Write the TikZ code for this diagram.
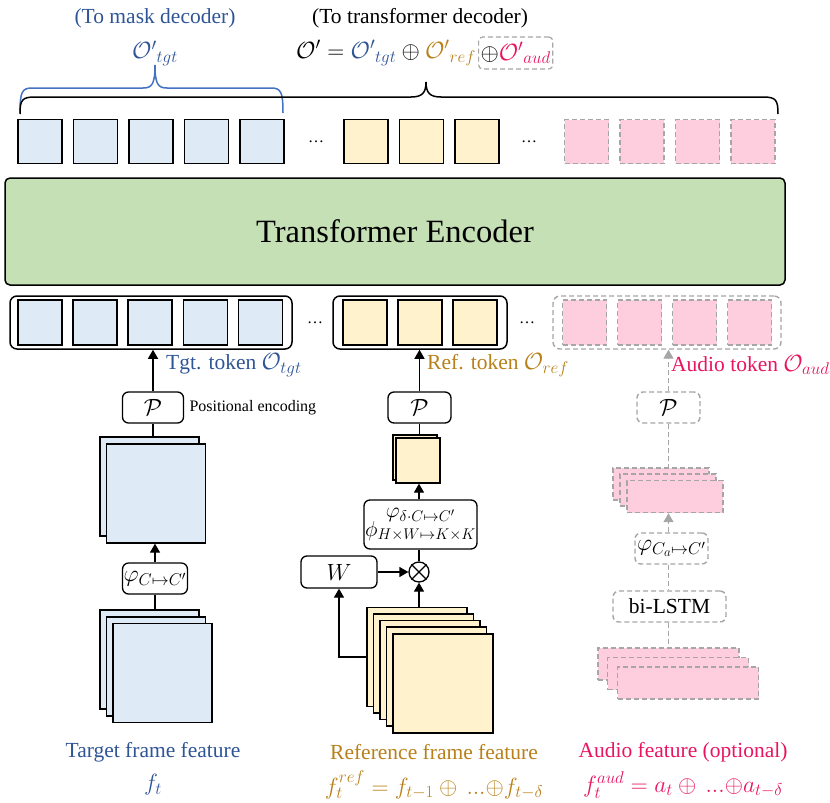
\RequirePackage{fix-cm}
\documentclass[tikz,border=0pt]{standalone}
\usepackage{fontspec}
\setmainfont{Liberation Serif}
\usetikzlibrary{arrows.meta,positioning}
\DeclareMathSizes{21.5}{23.5}{17}{13}
\DeclareMathSizes{19.5}{21.5}{15.5}{12}

\definecolor{tgtblue}{RGB}{47,85,151}
\definecolor{braceblue}{RGB}{68,114,196}
\definecolor{refgold}{RGB}{184,128,24}
\definecolor{audpink}{RGB}{233,20,96}
\definecolor{tgtfill}{RGB}{222,235,247}
\definecolor{reffill}{RGB}{255,242,204}
\definecolor{audfill}{RGB}{255,206,222}
\definecolor{encfill}{RGB}{197,224,180}
\definecolor{dashgray}{RGB}{166,166,166}

\begin{document}
\begin{tikzpicture}[x=1pt,y=-1pt,
  font=\fontsize{21.5}{24}\selectfont,
  gdash/.style={draw=dashgray, dash pattern=on 5pt off 3pt},
  tok/.style={draw, line width=1.3pt, minimum width=44pt, minimum height=44pt, inner sep=0pt},
  tgttok/.style={tok, fill=tgtfill},
  reftok/.style={tok, fill=reffill},
  audtok/.style={tok, fill=audfill, gdash},
  rowbox/.style={draw, line width=1.5pt, rounded corners=7pt, minimum height=53pt, inner sep=0pt},
  audrowbox/.style={rowbox, gdash, line width=1.4pt},
  opbox/.style={draw, line width=1.3pt, rounded corners=6pt, fill=white, minimum height=31pt, inner sep=2pt},
  audopbox/.style={opbox, gdash, line width=1.4pt},
  feat/.style={draw, line width=1.3pt, inner sep=0pt},
  tgtfeat/.style={feat, fill=tgtfill, minimum width=99pt, minimum height=99pt},
  reffeat/.style={feat, fill=reffill, minimum width=100pt, minimum height=99pt},
  refproj/.style={feat, fill=reffill, minimum width=44pt, minimum height=45pt},
  audfeat/.style={feat, fill=audfill, gdash, line width=1.4pt, minimum width=141pt, minimum height=32pt},
  audproj/.style={feat, fill=audfill, gdash, line width=1.4pt, minimum width=96pt, minimum height=32pt},
  dots/.style={font=\fontsize{16}{18}\selectfont},
  arr/.style={-{Triangle[length=9pt,width=10pt]}, line width=1.3pt},
  garr/.style={-{Triangle[length=9pt,width=10pt]}, line width=1.4pt, gdash},
  gline/.style={line width=1.4pt, gdash}]
\useasboundingbox (0,0) rectangle (830,803);

%Nodes
\node[text=tgtblue] (masktext) at (155,18) {(To mask decoder)};
\node[text=tgtblue] (maskout) at (155,53) {${\mathcal{O}'}_{tgt}$};
\node (dectext) at (420,18) {(To transformer decoder)};
\node[anchor=east, inner sep=1pt] (decout) at (477,53) {$\mathcal{O}' = {\color{tgtblue}{\mathcal{O}'}_{tgt}} \oplus {\color{refgold}{\mathcal{O}'}_{ref}}$};
\node[audopbox, line width=1.2pt, rounded corners=4pt, minimum height=32pt, right=1pt of decout] (decaud) {$\oplus {\color{audpink}{\mathcal{O}'}_{aud}}$};

\node[tgttok] (outtgt1) at (40,141.5) {};
\node[tgttok] (outtgt2) at (95.5,141.5) {};
\node[tgttok] (outtgt3) at (151,141.5) {};
\node[tgttok] (outtgt4) at (206.5,141.5) {};
\node[tgttok] (outtgt5) at (262,141.5) {};
\node[dots] (outdots1) at (316,142) {\ldots};
\node[reftok] (outref1) at (366,141.5) {};
\node[reftok] (outref2) at (421.5,141.5) {};
\node[reftok] (outref3) at (477,141.5) {};
\node[dots] (outdots2) at (529,142) {\ldots};
\node[audtok] (outaud1) at (586.5,141.5) {};
\node[audtok] (outaud2) at (642,141.5) {};
\node[audtok] (outaud3) at (697.5,141.5) {};
\node[audtok] (outaud4) at (753,141.5) {};

\node[draw, line width=1.5pt, rounded corners=5pt, fill=encfill, minimum width=780pt, minimum height=107pt, font=\fontsize{32.5}{36}\selectfont] (encoder) at (395,231.5) {Transformer Encoder};

\node[rowbox, minimum width=282pt] (tgtrow) at (151,322.5) {};
\node[tgttok, minimum height=45pt] (intgt1) at (40,322.5) {};
\node[tgttok, minimum height=45pt] (intgt2) at (95,322.5) {};
\node[tgttok, minimum height=45pt] (intgt3) at (150,322.5) {};
\node[tgttok, minimum height=45pt] (intgt4) at (205.5,322.5) {};
\node[tgttok, minimum height=45pt] (intgt5) at (260.5,322.5) {};
\node[dots] (indots1) at (315,323) {\ldots};
\node[rowbox, minimum width=174pt] (refrow) at (420,322.5) {};
\node[reftok, minimum height=45pt] (inref1) at (365,322.5) {};
\node[reftok, minimum height=45pt] (inref2) at (420,322.5) {};
\node[reftok, minimum height=45pt] (inref3) at (475,322.5) {};
\node[dots] (indots2) at (527,323) {\ldots};
\node[audrowbox, minimum width=228pt] (audrow) at (667,322.5) {};
\node[audtok, minimum height=45pt] (inaud1) at (584.5,322.5) {};
\node[audtok, minimum height=45pt] (inaud2) at (639.5,322.5) {};
\node[audtok, minimum height=45pt] (inaud3) at (694.5,322.5) {};
\node[audtok, minimum height=45pt] (inaud4) at (749.5,322.5) {};

\node[anchor=west, text=tgtblue, inner sep=0pt] (tgtlabel) at (166,365) {Tgt. token $\mathcal{O}_{tgt}$};
\node[anchor=west, text=refgold, inner sep=0pt] (reflabel) at (427,365) {Ref. token $\mathcal{O}_{ref}$};
\node[anchor=west, text=audpink, inner sep=0pt] (audlabel) at (671,365) {Audio token $\mathcal{O}_{aud}$};

% target branch
\node[opbox, minimum width=61pt] (tgtP) at (153,407.5) {$\mathcal{P}$};
\node[anchor=west, font=\fontsize{16}{18}\selectfont] (poslabel) at (186,407.5) {Positional encoding};
\node[tgtfeat] (tgtproj1) at (149.5,486.5) {};
\node[tgtfeat] (tgtproj2) at (156,493.5) {};
\node[opbox, minimum width=62pt, inner sep=1pt] (tgtphi) at (155,578.5) {$\varphi_{C\mapsto C'}$};
\node[tgtfeat] (tgtfeat1) at (149.5,659.5) {};
\node[tgtfeat] (tgtfeat2) at (156,666.5) {};
\node[tgtfeat] (tgtfeat3) at (162.5,673) {};

% reference branch
\node[opbox, minimum width=63pt] (refP) at (419.5,407.5) {$\mathcal{P}$};
\node[refproj] (refproj1) at (415,457.5) {};
\node[refproj] (refproj2) at (418,460.5) {};
\node[opbox, minimum width=113pt, minimum height=49pt, inner sep=1pt, align=center, font=\fontsize{19.5}{20}\selectfont] (refphi) at (420.5,524.5) {$\varphi_{\delta\cdot C\mapsto C'}$\\[-1pt]$\phi_{H\times W\mapsto K\times K}$};
\node[draw, circle, line width=1.3pt, minimum size=20pt, inner sep=0pt] (otimes) at (419,572) {};
\draw[line width=1.3pt] (otimes.north west) -- (otimes.south east) (otimes.north east) -- (otimes.south west);
\node[opbox, minimum width=76pt, minimum height=32pt] (wbox) at (339,572) {$W$};
\node[reffeat] (reffeat1) at (417,657) {};
\node[reffeat] (reffeat2) at (423.5,663.5) {};
\node[reffeat] (reffeat3) at (430,670) {};
\node[reffeat] (reffeat4) at (436.5,676.5) {};
\node[reffeat] (reffeat5) at (443,683.5) {};

% audio branch
\node[audopbox, minimum width=63pt] (audP) at (668.5,407.5) {$\mathcal{P}$};
\node[audproj] (audproj1) at (661,484) {};
\node[audproj] (audproj2) at (668,490) {};
\node[audproj] (audproj3) at (675,496.5) {};
\node[audopbox, minimum width=73pt, inner sep=1pt] (audphi) at (671.5,548.5) {$\varphi_{C_a\mapsto C'}$};
\node[audopbox, minimum width=113pt] (bilstm) at (669.5,606.5) {bi-LSTM};
\node[audfeat] (audfeat1) at (668.5,664) {};
\node[audfeat] (audfeat2) at (678,673.5) {};
\node[audfeat] (audfeat3) at (688,683) {};

% captions
\node[text=tgtblue] (tgtcap) at (153,752) {Target frame feature};
\node[text=tgtblue] (tgtform) at (153,785) {$f_t$};
\node[text=refgold] (refcap) at (434,752) {Reference frame feature};
\node[text=refgold] (refform) at (434,785) {$f_t^{ref} = f_{t-1} \oplus\, {...}{\oplus}f_{t-\delta}$};
\node[text=audpink] (audcap) at (683,752) {Audio feature (optional)};
\node[text=audpink] (audform) at (683,785) {$f_t^{aud} = a_t \oplus\, {...}{\oplus}a_{t-\delta}$};

%Lines
\draw[line width=1.5pt, braceblue] (20,113) .. controls (20,92) and (22,88) .. (32,88) -- (143,88) .. controls (152,88) and (155,84) .. (155,65) .. controls (155,84) and (158,88) .. (167,88) -- (271,88) .. controls (281,88) and (283,92) .. (283,113);
\draw[line width=1.5pt] (20,114) .. controls (20,100) and (22,97) .. (35,97) -- (411,97) .. controls (422,97) and (426,93) .. (426,82) .. controls (426,93) and (430,97) .. (441,97) -- (763,97) .. controls (776,97) and (778,100) .. (778,114);

\draw[arr] (tgtP.north) -- (tgtP.north |- tgtrow.south);
\draw[line width=1.3pt] (tgtP.south) -- (tgtP.south |- tgtproj1.north);
\draw[arr] (tgtphi.north) -- (tgtphi.north |- tgtproj2.south);
\draw[line width=1.3pt] (tgtphi.south) -- (tgtphi.south |- tgtfeat1.north);

\draw[arr] (refP.north) -- (refP.north |- refrow.south);
\draw[line width=1.3pt] (refP.south) -- (refP.south |- refproj1.north);
\draw[arr] (otimes |- refphi.north) -- (otimes |- refproj2.south);
\draw[line width=1.3pt] (otimes |- refphi.south) -- (otimes.north);
\draw[arr] (wbox.east) -- (otimes.west);
\draw[arr] (otimes |- reffeat1.north) -- (otimes.south);
\draw[arr] (reffeat1.west) -| (wbox.south);

\draw[garr] (audP.north) -- (audP.north |- audrow.south);
\draw[gline] (audP.south) -- (audP.south |- audproj1.north);
\draw[garr] (audP.south |- audphi.north) -- (audP.south |- audproj3.south);
\draw[gline] (audP.south |- audphi.south) -- (audP.south |- bilstm.north);
\draw[gline] (audP.south |- bilstm.south) -- (audP.south |- audfeat1.north);
\end{tikzpicture}
\end{document}
